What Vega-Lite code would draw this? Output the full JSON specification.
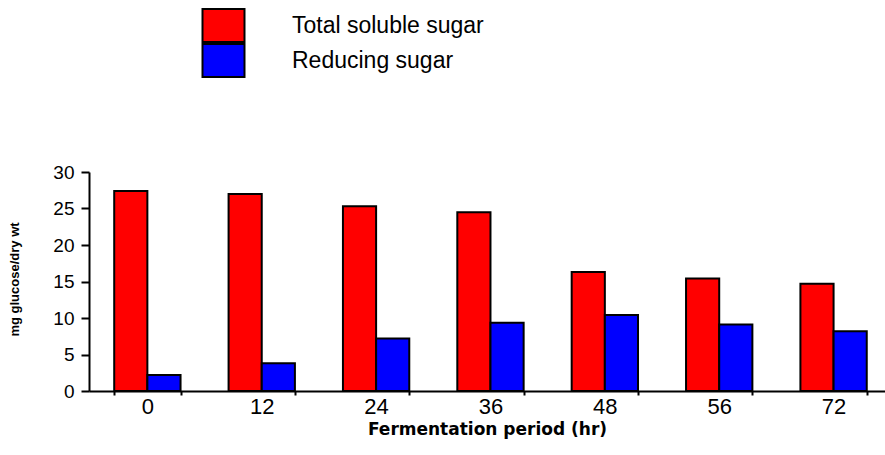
{
  "$schema": "https://vega.github.io/schema/vega-lite/v6.json",
  "autosize": {"type": "none"},
  "width": 796,
  "height": 219,
  "padding": {"left": 89, "top": 172, "right": 0, "bottom": 64},
  "background": "white",
  "config": {"view": {"stroke": null}, "font": "Liberation Sans"},
  "data": {
    "values": [
      {"period": 0, "sugar": "Total soluble sugar", "value": 27.4},
      {"period": 0, "sugar": "Reducing sugar", "value": 2.2},
      {"period": 12, "sugar": "Total soluble sugar", "value": 27.0},
      {"period": 12, "sugar": "Reducing sugar", "value": 3.8},
      {"period": 24, "sugar": "Total soluble sugar", "value": 25.3},
      {"period": 24, "sugar": "Reducing sugar", "value": 7.2},
      {"period": 36, "sugar": "Total soluble sugar", "value": 24.5},
      {"period": 36, "sugar": "Reducing sugar", "value": 9.35},
      {"period": 48, "sugar": "Total soluble sugar", "value": 16.3},
      {"period": 48, "sugar": "Reducing sugar", "value": 10.4},
      {"period": 56, "sugar": "Total soluble sugar", "value": 15.4},
      {"period": 56, "sugar": "Reducing sugar", "value": 9.1},
      {"period": 72, "sugar": "Total soluble sugar", "value": 14.7},
      {"period": 72, "sugar": "Reducing sugar", "value": 8.2}
    ]
  },
  "mark": {"type": "bar", "stroke": "black", "strokeWidth": 2},
  "encoding": {
    "x": {
      "field": "period",
      "type": "ordinal",
      "scale": {"paddingInner": 0.42, "paddingOuter": 0.19, "align": 0.58},
      "axis": {
        "labelAngle": 0,
        "labelFontSize": 22,
        "labelColor": "black",
        "labelPadding": 1,
        "tickBand": "extent",
        "tickSize": 4,
        "tickWidth": 2,
        "tickColor": "black",
        "domainColor": "black",
        "domainWidth": 2,
        "title": "Fermentation period (hr)",
        "titleFont": "DejaVu Sans",
        "titleFontSize": 17,
        "titleFontWeight": "bold",
        "titleColor": "black",
        "titlePadding": 4
      }
    },
    "xOffset": {"field": "sugar", "type": "nominal", "sort": ["Total soluble sugar", "Reducing sugar"]},
    "y": {
      "field": "value",
      "type": "quantitative",
      "scale": {"domain": [0, 30], "nice": false},
      "axis": {
        "values": [0, 5, 10, 15, 20, 25, 30],
        "grid": false,
        "labelFontSize": 19,
        "labelColor": "black",
        "labelPadding": 7,
        "tickSize": 8,
        "tickWidth": 2,
        "tickColor": "black",
        "domainColor": "black",
        "domainWidth": 2,
        "title": "mg glucose/dry wt",
        "titleFontSize": 13,
        "titleFontWeight": "bold",
        "titleColor": "black",
        "titleAngle": -90,
        "titleX": -75,
        "titleY": 107,
        "titleAlign": "center",
        "titleBaseline": "middle"
      }
    },
    "color": {
      "field": "sugar",
      "type": "nominal",
      "scale": {"domain": ["Total soluble sugar", "Reducing sugar"], "range": ["#FF0000", "#0000FF"]},
      "legend": {
        "title": null,
        "orient": "none",
        "legendX": 110,
        "legendY": -164,
        "padding": 0,
        "rowPadding": 0,
        "clipHeight": 35,
        "symbolOffset": 6,
        "symbolType": "M-1.2,-0.94H1.2V0.94H-1.2Z",
        "symbolSize": 1225,
        "symbolStrokeColor": "black",
        "symbolStrokeWidth": 2,
        "symbolOpacity": 1,
        "labelFontSize": 23,
        "labelLimit": 0,
        "labelColor": "black",
        "labelOffset": 50
      }
    }
  }
}
